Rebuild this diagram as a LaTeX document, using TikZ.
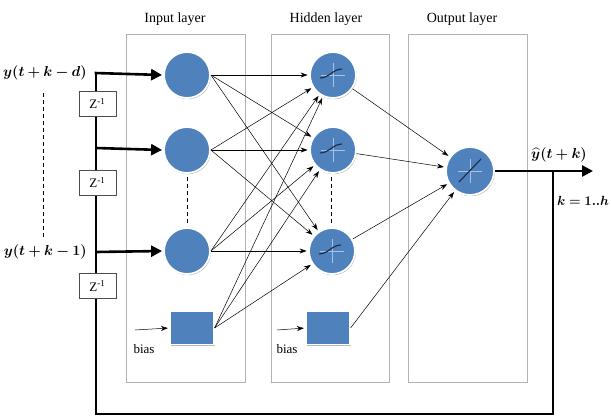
\documentclass[tikz,border=0pt]{standalone}
\usepackage{amsmath,bm}
\usepackage{fontspec}
\setmainfont{Liberation Serif}
\usetikzlibrary{arrows.meta,shadows}
\definecolor{nblue}{HTML}{4F81BD}
\definecolor{lblue}{HTML}{A9C2E4}
\definecolor{dnavy}{HTML}{1B2A47}
\begin{document}
\begin{tikzpicture}[x=1pt,y=-1pt,
  font=\fontsize{13}{15}\selectfont,
  layerbox/.style={draw=black!30, line width=0.8pt},
  neuron/.style={circle, fill=nblue, draw=white, line width=1.8pt, minimum size=46pt, inner sep=0pt,
     drop shadow={shadow xshift=0.8pt, shadow yshift=-1.2pt, fill=black!45, opacity=0.7}},
  biasbox/.style={rectangle, fill=nblue, draw=white, line width=1.2pt, minimum width=44pt, minimum height=33pt, inner sep=0pt,
     drop shadow={shadow xshift=1pt, shadow yshift=-1.5pt, fill=black!40, opacity=0.7}},
  zbox/.style={rectangle, draw=black!70, fill=white, line width=0.7pt, minimum width=37pt, minimum height=25pt, inner sep=0pt},
  conn/.style={-{Stealth[length=7pt,width=5pt]}, line width=0.5pt, shorten >=1.5pt},
  thickline/.style={line width=2.6pt},
  thickarrow/.style={line width=2.6pt, -{Triangle[length=11pt,width=11pt]}},
  cross/.style={lblue, line width=0.9pt},
  act/.style={dnavy, line width=1.1pt},
  dashline/.style={dashed, dash pattern=on 4pt off 3pt, line width=1pt},
  title/.style={font=\fontsize{14}{16}\selectfont},
  mlabel/.style={font=\fontsize{14.5}{16}\selectfont, inner sep=1pt}
]
\useasboundingbox (0,0) rectangle (611,417);

% layer boxes
\draw[layerbox] (126,34) rectangle (245,382);
\draw[layerbox] (271,34) rectangle (389,382);
\draw[layerbox] (408,34) rectangle (527,382);
\node[title] (tin) at (175,19) {Input layer};
\node[title] (thid) at (326,19) {Hidden layer};
\node[title] (tout) at (462,19) {Output layer};

% neurons
\node[neuron] (i1) at (187,75) {};
\node[neuron] (i2) at (187,150) {};
\node[neuron] (i3) at (187,251) {};
\node[biasbox] (ib) at (192,328) {};
\node[neuron] (h1) at (333,75) {};
\node[neuron] (h2) at (333,150) {};
\node[neuron] (h3) at (332,251) {};
\node[biasbox] (hb) at (328,328) {};
\node[neuron, minimum size=48pt] (o) at (470,171) {};

% activation symbols
\foreach \n in {h1,h2,h3}{
  \begin{scope}[shift={(\n.center)}]
    \draw[cross] (0,-12) -- (0,12);
    \draw[cross] (-12,0) -- (12,0);
    \draw[act] (-13,3) .. controls (-4,3) and (0,-6) .. (9,-6);
  \end{scope}
}
\begin{scope}[shift={(o.center)}]
  \draw[cross] (0,-12) -- (0,12);
  \draw[cross] (-12,0) -- (12,0);
  \draw[act] (-11,11) -- (11,-12);
\end{scope}

% dashed ellipsis lines
\coordinate (di1) at (187,177); \coordinate (di2) at (187,226);
\coordinate (dh1) at (331,177); \coordinate (dh2) at (331,226);
\coordinate (dl1) at (43,93); \coordinate (dl2) at (43,237);
\draw[dashline] (di1) -- (di2);
\draw[dashline] (dh1) -- (dh2);
\draw[dashline] (dl1) -- (dl2);

% input -> hidden connections
\foreach \s in {i1,i2,i3}{
  \foreach \t in {h1,h2,h3}{
    \draw[conn] (\s.east) -- (\t);
  }
}
\foreach \t in {h1,h2,h3}{
  \draw[conn] (ib.east) -- (\t);
}
% hidden -> output
\foreach \s in {h1,h2,h3}{
  \draw[conn] (\s) -- (o);
}
\draw[conn] (hb.east) -- (o);

% bias arrows
\coordinate (ba1) at (135,330);
\coordinate (ba2) at (277,330);
\draw[conn] (ba1) -- (ib.west);
\draw[conn] (ba2) -- (hb.west);
\node (bl1) at (144,349) {bias};
\node (bl2) at (287,349) {bias};

% feedback / tapped delay line
\coordinate (L0) at (96,73);
\coordinate (L1) at (96,148);
\coordinate (L2) at (96,252);
\coordinate (Lb) at (96,414);
\coordinate (Rb) at (553,414);
\coordinate (Rt) at (553,171);
\coordinate (oend) at (593,171);
\draw[thickarrow] (o.east) -- (oend);
\draw[thickline, line join=miter] (Rt) -- (Rb) -- (Lb) -- (L0);
\draw[thickarrow] ([xshift=-1.3pt]L0) -- ([xshift=-1pt]i1.west);
\draw[thickarrow] (L1) -- ([xshift=-1pt]i2.west);
\draw[thickarrow] (L2) -- ([xshift=-1pt]i3.west);

\node[zbox] (z1) at (97.5,103.5) {Z\textsuperscript{-1}};
\node[zbox] (z2) at (97.5,182.5) {Z\textsuperscript{-1}};
\node[zbox] (z3) at (97.5,286) {Z\textsuperscript{-1}};

% labels
\node[mlabel, anchor=east] (lab1) at (88,73) {$\boldsymbol{y(t+k-d)}$};
\node[mlabel, anchor=east] (lab2) at (88,252) {$\boldsymbol{y(t+k-1)}$};
\node[mlabel] (lab3) at (559,155) {$\widehat{\boldsymbol{y}}\boldsymbol{(t+k)}$};
\node[mlabel, anchor=west, scale=0.92] (lab4) at (556,201) {$\boldsymbol{k=1..h}$};
\end{tikzpicture}
\end{document}
